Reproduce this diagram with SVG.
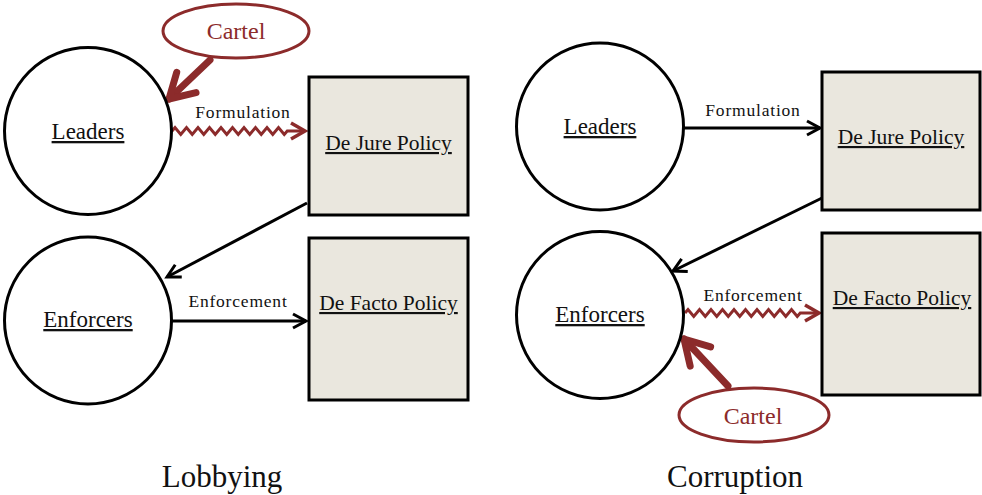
<svg xmlns="http://www.w3.org/2000/svg" width="982" height="495" viewBox="0 0 982 495">
<style>
.circle{fill:#fff;stroke:#000;stroke-width:3}
.box{fill:#EAE7DE;stroke:#000;stroke-width:3}
.lbl{font-family:"Liberation Serif","Times New Roman",serif;fill:#111;text-anchor:middle;text-decoration:underline}
.node{font-size:23px}
.boxlbl{font-size:21.5px}
.edge{font-family:"Liberation Serif","Times New Roman",serif;font-size:17.5px;letter-spacing:0.8px;fill:#111;text-anchor:middle}
.title{font-family:"Liberation Serif","Times New Roman",serif;font-size:31px;fill:#111;text-anchor:middle}
.oval{fill:#fff;stroke:#8C2B2B;stroke-width:3}
.cartel{font-family:"Liberation Serif","Times New Roman",serif;font-size:24px;fill:#8C2B2B;text-anchor:middle}
.blk{fill:none;stroke:#000;stroke-width:3}
.wave{fill:none;stroke:#8C2B2B;stroke-width:3;stroke-linejoin:miter}
.thick{fill:none;stroke:#8C2B2B;stroke-width:7;stroke-linecap:round}
</style>
<defs>
<marker id="ab" markerUnits="userSpaceOnUse" markerWidth="30" markerHeight="30" refX="0" refY="0" orient="auto" viewBox="-20 -15 30 30" overflow="visible">
<path d="M-13,-7 L0,0 L-13,7" fill="none" stroke="#000" stroke-width="3" stroke-linejoin="miter"/>
</marker>
<marker id="ar" markerUnits="userSpaceOnUse" markerWidth="30" markerHeight="30" refX="0" refY="0" orient="auto" viewBox="-20 -15 30 30" overflow="visible">
<path d="M-14,-8 L0,0 L-14,8" fill="none" stroke="#8C2B2B" stroke-width="3.5" stroke-linejoin="miter"/>
</marker>
<marker id="ac" markerUnits="userSpaceOnUse" markerWidth="60" markerHeight="60" refX="0" refY="0" orient="auto" viewBox="-40 -30 60 60" overflow="visible">
<path d="M-24,-14 L0,0 L-24,14" fill="none" stroke="#8C2B2B" stroke-width="7" stroke-linecap="round" stroke-linejoin="round"/>
</marker>
</defs>

<g id="connectors">
<!-- Lobbying -->
<path class="wave" marker-end="url(#ar)" d="M172,131 l3,-3.5 l5.75,7 l5.75,-7 l5.75,7 l5.75,-7 l5.75,7 l5.75,-7 l5.75,7 l5.75,-7 l5.75,7 l5.75,-7 l5.75,7 l5.75,-7 l5.75,7 l5.75,-7 l5.75,7 l5.75,-7 l5.75,7 l5.75,-7 l5.75,7 l3,-3.5 L305,131"/>
<line class="blk" marker-end="url(#ab)" x1="307" y1="203" x2="167" y2="277"/>
<line class="blk" marker-end="url(#ab)" x1="172" y1="321" x2="306" y2="321"/>
<line class="thick" marker-end="url(#ac)" x1="210" y1="60" x2="169" y2="99"/>
<!-- Corruption -->
<line class="blk" marker-end="url(#ab)" x1="684" y1="128" x2="820" y2="128"/>
<line class="blk" marker-end="url(#ab)" x1="822" y1="198" x2="673" y2="271"/>
<path class="wave" marker-end="url(#ar)" d="M685,313 l3,-3.5 l5.75,7 l5.75,-7 l5.75,7 l5.75,-7 l5.75,7 l5.75,-7 l5.75,7 l5.75,-7 l5.75,7 l5.75,-7 l5.75,7 l5.75,-7 l5.75,7 l5.75,-7 l5.75,7 l5.75,-7 l5.75,7 l5.75,-7 l5.75,7 l3,-3.5 L819,313"/>
<line class="thick" marker-end="url(#ac)" x1="728" y1="386" x2="684" y2="339"/>
<!-- edge labels -->
<text class="edge" x="243" y="118">Formulation</text>
<text class="edge" x="238" y="307">Enforcement</text>
<text class="edge" x="753" y="116">Formulation</text>
<text class="edge" x="753" y="301">Enforcement</text>
</g>

<g id="lob-leaders">
<circle class="circle" cx="88" cy="131" r="83.5"/>
<text class="lbl node" x="88" y="139">Leaders</text>
</g>
<g id="lob-enforcers">
<circle class="circle" cx="88" cy="320.5" r="83.5"/>
<text class="lbl node" x="88" y="327">Enforcers</text>
</g>
<g id="lob-dejure">
<rect class="box" x="309" y="77" width="159" height="138"/>
<text class="lbl boxlbl" x="388.5" y="150">De Jure Policy</text>
</g>
<g id="lob-defacto">
<rect class="box" x="309" y="238" width="159" height="162"/>
<text class="lbl boxlbl" x="388.5" y="310">De Facto Policy</text>
</g>
<g id="lob-cartel">
<ellipse class="oval" cx="236" cy="31" rx="73" ry="27"/>
<text class="cartel" x="236" y="39">Cartel</text>
</g>

<g id="cor-leaders">
<circle class="circle" cx="600" cy="126.5" r="83.5"/>
<text class="lbl node" x="600" y="134">Leaders</text>
</g>
<g id="cor-enforcers">
<circle class="circle" cx="600" cy="315" r="83.5"/>
<text class="lbl node" x="600" y="322">Enforcers</text>
</g>
<g id="cor-dejure">
<rect class="box" x="822" y="72" width="158" height="138"/>
<text class="lbl boxlbl" x="901" y="144">De Jure Policy</text>
</g>
<g id="cor-defacto">
<rect class="box" x="822" y="233" width="158" height="162"/>
<text class="lbl boxlbl" x="902" y="305">De Facto Policy</text>
</g>
<g id="cor-cartel">
<ellipse class="oval" cx="754" cy="415" rx="75" ry="27"/>
<text class="cartel" x="753" y="424">Cartel</text>
</g>

<text class="title" x="222" y="487">Lobbying</text>
<text class="title" x="735" y="487">Corruption</text>
</svg>
